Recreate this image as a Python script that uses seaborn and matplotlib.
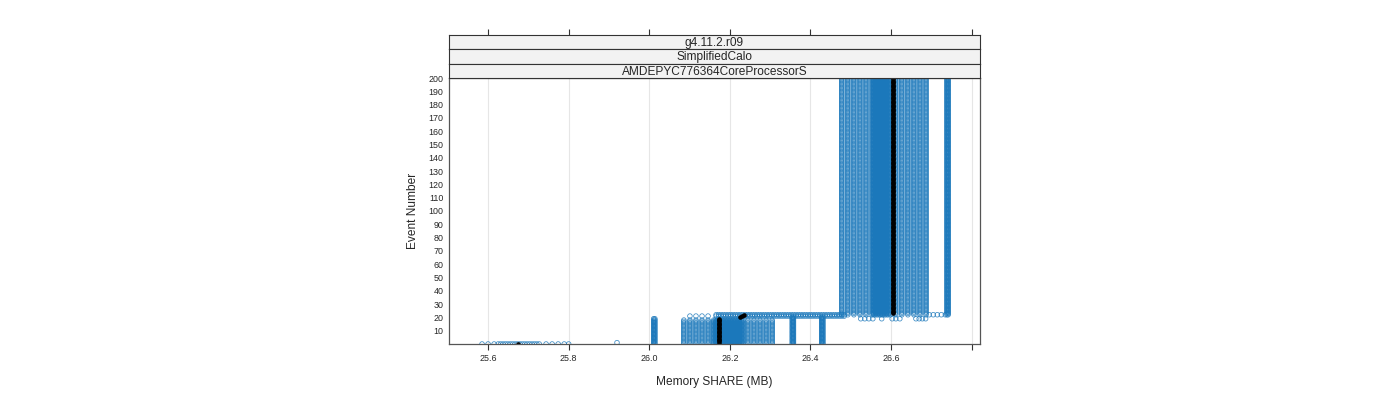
import numpy as np
import pandas as pd
import matplotlib
matplotlib.use("Agg")
import matplotlib.pyplot as plt
import seaborn as sns

# ---------------- data ----------------
strip_labels = ["g4.11.2.r09", "SimplifiedCalo", "AMDEPYC776364CoreProcessorS"]
x_ticks = [25.6, 25.8, 26.0, 26.2, 26.4, 26.6, 26.8]
x_tick_labels = ["25.6", "25.8", "26.0", "26.2", "26.4", "26.6", ""]
y_ticks = [10, 20, 30, 40, 50, 60, 70, 80, 90, 100, 110, 120, 130, 140, 150, 160, 170, 180, 190, 200]

# blue runs: groups of (memory values, first event, last event)
event1_x = [25.585, 25.600, 25.615, 25.625, 25.631, 25.637, 25.643, 25.649, 25.655,
            25.661, 25.667, 25.673, 25.679, 25.685, 25.691, 25.697, 25.703, 25.709,
            25.715, 25.721, 25.727, 25.744, 25.759, 25.774, 25.789, 25.800]
lone_x = [25.920]
col_a_x = [26.011, 26.014]
early_x = [26.086, 26.101, 26.116, 26.131, 26.146, 26.160, 26.164, 26.168, 26.172,
           26.176, 26.180, 26.184, 26.188, 26.192, 26.196, 26.200, 26.204, 26.208,
           26.212, 26.216, 26.220, 26.224, 26.228, 26.232,
           26.245, 26.260, 26.275, 26.290, 26.305]
early_top_x = [26.101, 26.116, 26.131, 26.146]
mid_cols_x = [26.355, 26.358, 26.428, 26.431]
band_x = [26.166, 26.172, 26.178, 26.184, 26.190, 26.196, 26.202, 26.208, 26.214,
          26.220, 26.226, 26.232, 26.238, 26.244, 26.250, 26.256, 26.262, 26.268,
          26.274, 26.280, 26.286, 26.292, 26.298, 26.304, 26.310, 26.316, 26.322,
          26.328, 26.334, 26.340, 26.346, 26.352, 26.358, 26.364, 26.370, 26.376,
          26.382, 26.388, 26.394, 26.400, 26.406, 26.412, 26.418, 26.424, 26.430,
          26.436, 26.442, 26.448, 26.454, 26.460, 26.466, 26.472, 26.478, 26.484]
late_x = [26.478, 26.493, 26.508, 26.523, 26.538, 26.553, 26.557, 26.561, 26.565,
          26.569, 26.573, 26.577, 26.581, 26.585, 26.589, 26.593, 26.598,
          26.612, 26.627, 26.642, 26.657, 26.672, 26.687]
late_low_x = [26.525, 26.535, 26.545, 26.555, 26.577, 26.603, 26.612, 26.622,
              26.662, 26.670, 26.678, 26.686]
late_edge_x = [26.695, 26.705, 26.715, 26.725, 26.735]
late_col_x = [26.739, 26.742]

blue_groups = [
    (event1_x, 0, 0),
    (lone_x, 1, 1),
    (col_a_x, 0, 19),
    (early_x, 0, 18),
    (early_top_x, 21, 21),
    (mid_cols_x, 0, 20),
    (band_x, 21, 22),
    (late_low_x, 19, 19),
    (late_edge_x, 22, 22),
    (late_x, 22, 202),
    (late_col_x, 22, 202),
]

# black reference run: (memory value, first event, last event)
ref_segments = [
    (25.675, 0, 0),
    (26.172, 1, 19),
    (26.225, 20, 20),
    (26.230, 21, 21),
    (26.235, 22, 22),
    (26.604, 23, 202),
]

# ---------------- build tables ----------------
rows = []
for xs, e0, e1 in blue_groups:
    for xv in xs:
        for ev in range(e0, e1 + 1):
            rows.append((xv, ev))
runs = pd.DataFrame(rows, columns=["mem", "event"])

rrows = []
for xv, e0, e1 in ref_segments:
    for ev in range(e0, e1 + 1):
        rrows.append((xv, ev))
ref = pd.DataFrame(rrows, columns=["mem", "event"])

# ---------------- figure ----------------
sns.set_style("white")
plt.rcParams["font.family"] = ["Liberation Sans", "DejaVu Sans"]

fig = plt.figure(figsize=(14, 4), dpi=100)
L, R = 449 / 1400, 980 / 1400
ax = fig.add_axes([L, 1 - 344 / 400, R - L, (344 - 78) / 400])

BLUE = "#1b78bb"
sns.scatterplot(data=runs, x="mem", y="event", ax=ax, marker="o", s=11,
                facecolor="none", edgecolor=BLUE, linewidth=0.55, alpha=0.85,
                legend=False)
sns.scatterplot(data=ref, x="mem", y="event", ax=ax, marker="o", s=11,
                color="black", edgecolor="black", linewidth=0, legend=False)

ax.set_xlim(25.503, 26.821)
ax.set_ylim(0, 200)
for xv in x_ticks:
    ax.axvline(xv, color="#e6e6e6", lw=0.8, zorder=0)

ax.set_xticks(x_ticks)
ax.set_xticklabels(x_tick_labels, fontsize=6.4)
ax.set_yticks(y_ticks)
ax.set_yticklabels([str(v) for v in y_ticks], fontsize=6.4)
ax.tick_params(axis="x", direction="out", length=4.5, width=0.8, color="#333333", pad=3, bottom=True)
ax.tick_params(axis="y", length=0, pad=4)
for sp in ax.spines.values():
    sp.set_color("#555555")
    sp.set_linewidth(0.9)

ax.set_xlabel("Memory SHARE (MB)", fontsize=8.6, labelpad=9)
ax.set_ylabel("Event Number", fontsize=8.6, labelpad=7)

# top ticks above the strips
sec = ax.secondary_xaxis(1 + (78 - 35) / 266)
sec.set_xticks(x_ticks)
sec.set_xticklabels([""] * len(x_ticks))
sec.tick_params(direction="out", length=4, width=0.8, color="#333333")
sec.spines["top"].set_visible(False)

# strips
strip_px = [(35, 49), (49, 64), (64, 78)]
for label, (t, b) in zip(strip_labels, strip_px):
    sax = fig.add_axes([L, 1 - b / 400, R - L, (b - t) / 400])
    sax.set_facecolor("#f2f2f2")
    sax.set_xticks([])
    sax.set_yticks([])
    for sp in sax.spines.values():
        sp.set_color("#333333")
        sp.set_linewidth(0.8)
    sax.text(0.5, 0.45, label, ha="center", va="center", fontsize=8.6,
             transform=sax.transAxes)

fig.savefig("out.png", dpi=100)
